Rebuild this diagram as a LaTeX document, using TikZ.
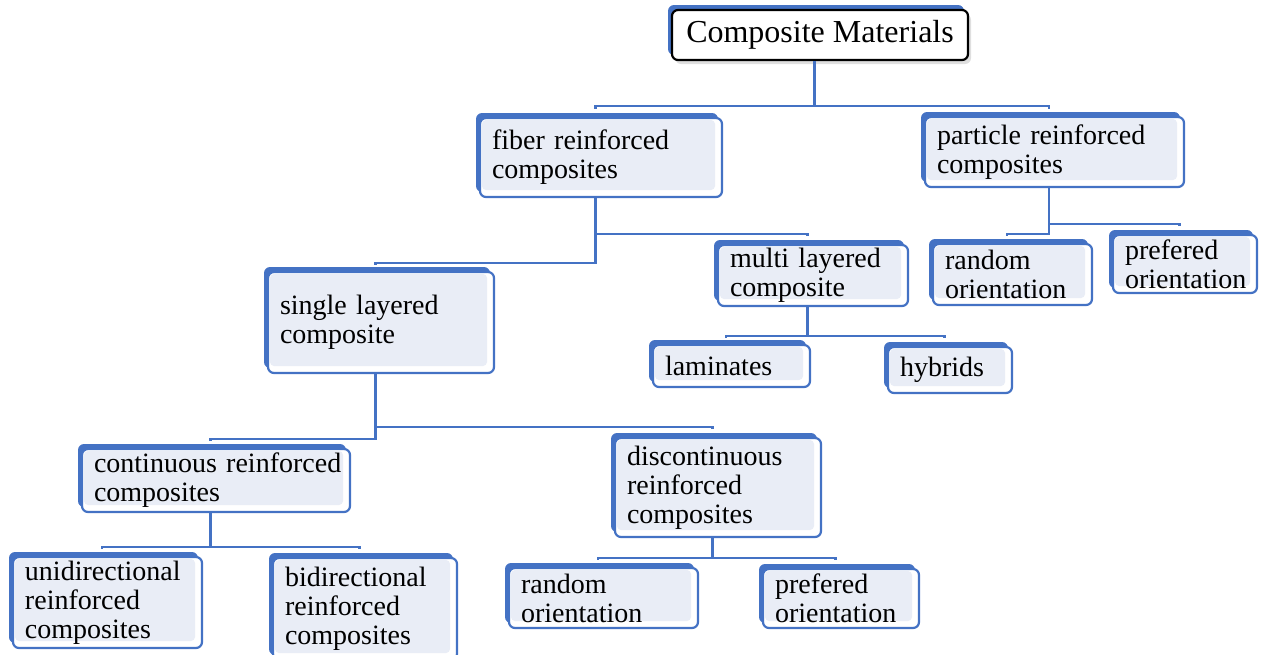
\documentclass[tikz,border=0pt]{standalone}
\usepackage{fontspec}
\setmainfont{Liberation Serif}
\usetikzlibrary{shadows}
\definecolor{line}{HTML}{4472C4}
\definecolor{pale}{HTML}{E9EDF6}
\newcommand\cardfont{\fontsize{14}{14.5}\selectfont\hyphenpenalty=10000\relax}
\tikzset{back/.style={general shadow={fill=line,shadow xshift=-2pt,shadow yshift=2.5pt}},
  card/.style={back,rounded corners=3pt,draw=line,line width=1.1pt,fill=white,
    inner xsep=6pt,inner ysep=0pt,align=left,font=\cardfont,
    path picture={\fill[pale,rounded corners=2pt]
      ([shift={(1pt,3.5pt)}]path picture bounding box.south west) rectangle
      ([shift={(-3.5pt,-1pt)}]path picture bounding box.north east);}},
  topcard/.style={drop shadow={shadow xshift=1.5pt,shadow yshift=-2pt,opacity=.25},back,
    rounded corners=3pt,draw=black,line width=1.1pt,fill=white,font=\fontsize{16}{18}\selectfont},
  conn/.style={draw=line,line width=1.2pt}}
\begin{document}
\begin{tikzpicture}[x=.5pt,y=-.5pt]
\useasboundingbox (0,0) rectangle (1262,654);
% boxes
\node[topcard,minimum width=148pt,minimum height=25pt] (cm) at (820,35) {Composite Materials};
\node[card,text width=109pt,minimum height=39.5pt] (fib) at (601,157.5) {fiber reinforced\\composites};
\node[card,text width=117.5pt,minimum height=35pt] (par) at (1054.5,152) {particle reinforced\\composites};
\node[card,text width=101pt,minimum height=50.5pt] (sing) at (381,322.5) {single layered\\composite};
\node[card,text width=83pt,minimum height=30.5pt] (mult) at (813,275.5) {multi layered\\composite};
\node[card,text width=67.5pt,minimum height=30.5pt] (rnda) at (1012.5,274.5) {random\\orientation};
\node[card,text width=60pt,minimum height=29pt] (prfa) at (1185,264) {prefered\\orientation};
\node[card,text width=66.5pt,minimum height=21pt] (lam) at (731.5,366) {laminates};
\node[card,text width=50pt,minimum height=23pt] (hyb) at (950,370) {hybrids};
\node[card,text width=122pt,minimum height=31.5pt] (cont) at (216,480.5) {continuous~reinforced\\composites};
\node[card,text width=91pt,minimum height=49.5pt] (disc) at (718,487.5) {discontinuous\\reinforced\\composites};
\node[card,text width=82.5pt,minimum height=45.5pt] (uni) at (107.5,602.5) {unidirectional\\reinforced\\composites};
\node[card,text width=80pt,minimum height=51pt] (bid) at (365,609) {bidirectional\\reinforced\\composites};
\node[card,text width=82.5pt,minimum height=30pt] (rndb) at (603.5,598) {random\\orientation};
\node[card,text width=66pt,minimum height=29.5pt] (prfb) at (841,598.5) {prefered\\orientation};
% connectors
\draw[conn] ([xshift=-2.75pt]cm.south) -- ++(0,45) coordinate (cmbar);
\draw[conn] ([xshift=-2.75pt,yshift=4pt]fib.north) |- (cmbar) -| ([xshift=-2.75pt,yshift=3.5pt]par.north);
\draw[conn] ([xshift=-2.75pt]fib.south) -- ++(0,65) -| ([xshift=-2.75pt,yshift=3pt]sing.north);
\draw[conn] ([xshift=-2.75pt]fib.south) ++(0,36) -| ([xshift=-2.75pt,yshift=4pt]mult.north);
\draw[conn] ([xshift=-2.75pt]par.south) -- ++(0,46) -| ([xshift=-2.75pt,yshift=3.5pt]rnda.north);
\draw[conn] ([xshift=-2.75pt]par.south) ++(0,36) -| ([xshift=-2.75pt,yshift=4pt]prfa.north);
\draw[conn] ([xshift=-2.75pt]mult.south) -- ++(0,29) coordinate (mbar);
\draw[conn] ([xshift=-2.75pt,yshift=3pt]lam.north) |- (mbar) -| ([xshift=-2.75pt,yshift=4pt]hyb.north);
\draw[conn] ([xshift=-2.75pt]sing.south) -- ++(0,65) -| ([xshift=-2.75pt,yshift=3.5pt]cont.north);
\draw[conn] ([xshift=-2.75pt]sing.south) ++(0,53) -| ([xshift=-2.75pt,yshift=4pt]disc.north);
\draw[conn] ([xshift=-2.75pt]cont.south) -- ++(0,34) coordinate (cbar);
\draw[conn] ([xshift=-2.75pt,yshift=3.5pt]uni.north) |- (cbar) -| ([xshift=-2.75pt,yshift=4pt]bid.north);
\draw[conn] ([xshift=-2.75pt]disc.south) -- ++(0,20) coordinate (dbar);
\draw[conn] ([xshift=-2.75pt,yshift=3.5pt]rndb.north) |- (dbar) -| ([xshift=-2.75pt,yshift=4pt]prfb.north);
\end{tikzpicture}
\end{document}
